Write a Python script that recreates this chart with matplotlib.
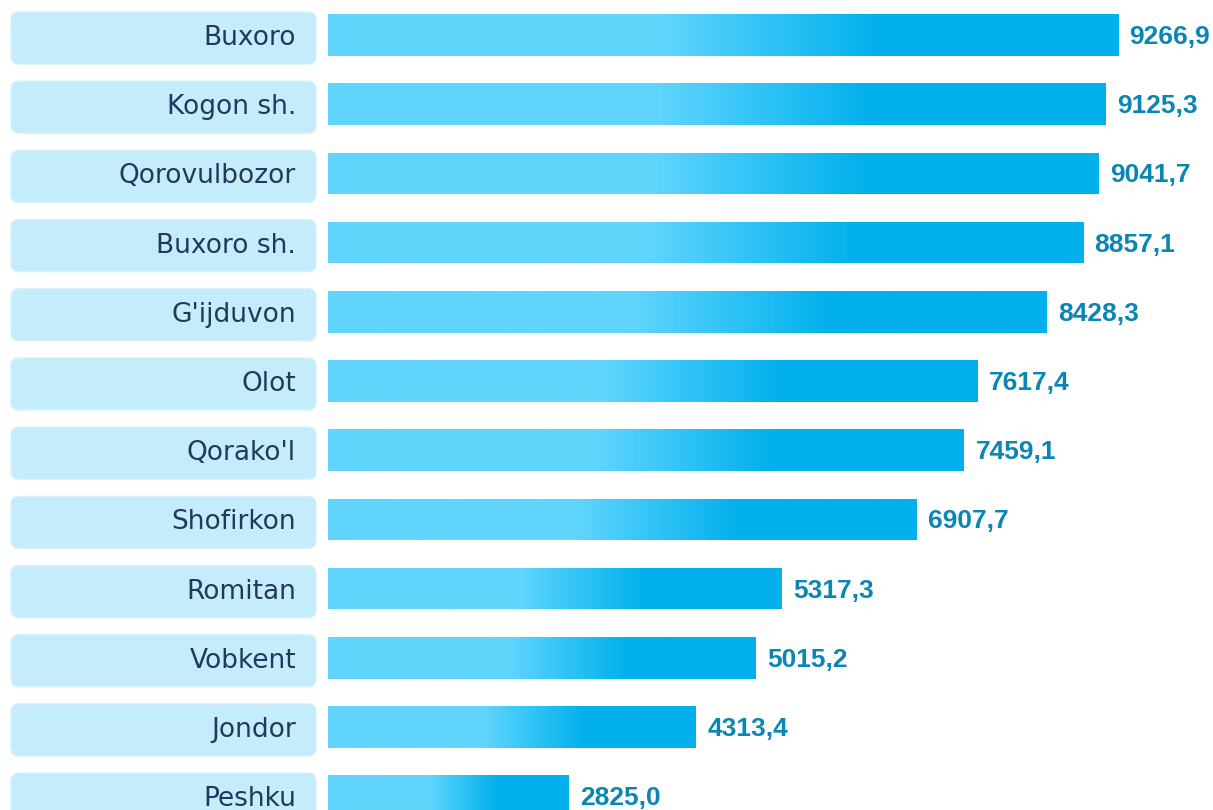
import numpy as np
import matplotlib.pyplot as plt
from matplotlib.colors import LinearSegmentedColormap
from matplotlib.patches import FancyBboxPatch

# data
districts = ['Buxoro', 'Kogon sh.', 'Qorovulbozor', 'Buxoro sh.', "G'ijduvon", 'Olot',
             "Qorako'l", 'Shofirkon', 'Romitan', 'Vobkent', 'Jondor', 'Peshku']
values = [9266.9, 9125.3, 9041.7, 8857.1, 8428.3, 7617.4,
          7459.1, 6907.7, 5317.3, 5015.2, 4313.4, 2825.0]
value_labels = ['9266,9', '9125,3', '9041,7', '8857,1', '8428,3', '7617,4',
                '7459,1', '6907,7', '5317,3', '5015,2', '4313,4', '2825,0']

W, H = 1213, 810
row_px = 69.2
fig = plt.figure(figsize=(W / 100, H / 100), dpi=100)

ylim = (11.2, -35 / row_px)
ax = fig.add_axes([328 / W, 0, 1 - 328 / W, 1])
ax.set_xlim(0, (W - 328) / 0.08525)
ax.set_ylim(*ylim)
ax.axis('off')

cmap = LinearSegmentedColormap.from_list(
    'bar', [(0, '#62d5fd'), (0.42, '#62d5fd'), (0.56, '#2fc3f6'), (0.70, '#02b0ec'), (1, '#02b0ec')])
grad = np.linspace(0, 1, 256).reshape(1, -1)

y = np.arange(len(values))
bars = ax.barh(y, values, height=0.6, color='none', edgecolor='none')
for bar, lab in zip(bars, value_labels):
    x0, y0 = bar.get_x(), bar.get_y()
    w, h = bar.get_width(), bar.get_height()
    im = ax.imshow(grad, extent=(x0, x0 + w, y0 + h, y0), cmap=cmap,
                   aspect='auto', interpolation='bicubic')
    im.set_clip_path(bar)
    ax.text(x0 + w + 135, y0 + h / 2 + 0.03, lab, ha='left', va='center',
            fontsize=19, fontweight='bold', color='#0a86b4', family='Liberation Sans')
ax.set_xlim(0, (W - 328) / 0.08525)
ax.set_ylim(*ylim)

# label boxes
lax = fig.add_axes([0, 0, 328 / W, 1])
lax.set_xlim(0, 328)
lax.set_ylim(*ylim)
lax.axis('off')
hh = 52 / row_px
for i, name in enumerate(districts):
    yc = i + 3 / row_px
    box = FancyBboxPatch((11, yc - hh / 2), 305, hh, boxstyle='round,pad=0,rounding_size=8',
                         mutation_aspect=1 / row_px, facecolor='#c4ecfb', edgecolor='#d4f1fc', lw=1)
    lax.add_patch(box)
    lax.text(296, i + 3 / row_px, name, ha='right', va='center', fontsize=19, color='#1e3a5c',
             family='DejaVu Sans')

fig.savefig('out.png', dpi=100)
